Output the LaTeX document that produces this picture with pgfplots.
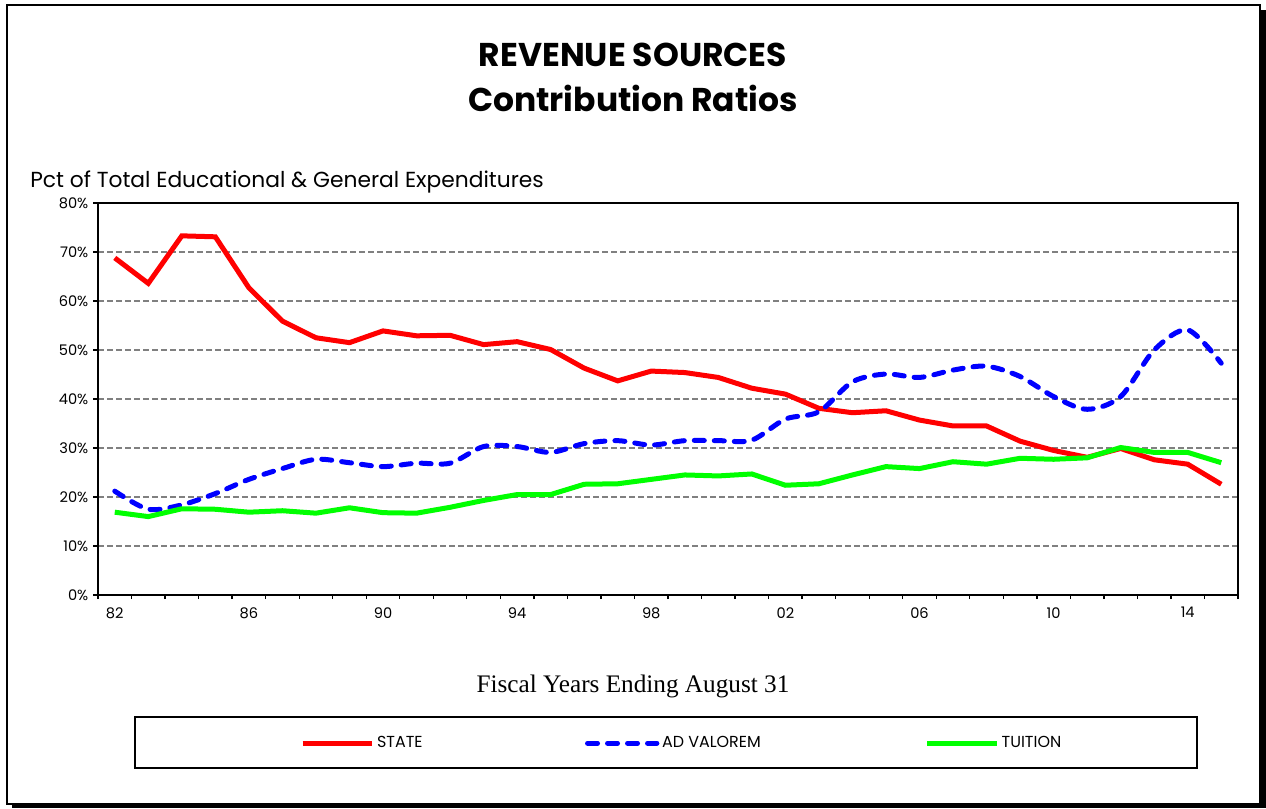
\documentclass[border=0pt]{standalone}
\usepackage{pgfplots}
\pgfplotsset{compat=1.18}
\usepackage{fontspec}
\setmainfont{Poppins}
\newfontfamily\serifx{Liberation Serif}
\definecolor{gridgray}{HTML}{808080}

\begin{document}
\begin{tikzpicture}[x=0.75bp,y=0.75bp]
% page size and outer frame with shadow
\path (0,0) rectangle (1266,808);
\fill[black] (12,0) rectangle (1266,5);
\fill[black] (1260,0) rectangle (1266,798);
\draw[line width=1.5bp] (7,4) rectangle (1260,803);

% titles
\node[font=\bfseries\fontsize{24.8}{28}\selectfont] at (633,753) {REVENUE SOURCES};
\node[font=\bfseries\fontsize{24.8}{28}\selectfont] at (633,710) {Contribution Ratios};
\node[anchor=west,inner sep=0pt,font=\fontsize{16.4}{18}\selectfont] at (30,626)
  {Pct of Total Educational \& General Expenditures};
\node[font=\serifx\fontsize{19}{21}\selectfont] at (633,122) {Fiscal Years Ending August 31};

% legend box
\draw[line width=1bp] (135,40) rectangle (1197,91);

\begin{axis}[
  at={(73.5bp,159.75bp)}, anchor=south west,
  scale only axis, width=855bp, height=294bp,
  xmin=81.5, xmax=115.5, ymin=0, ymax=80,
  xtick={82,86,...,114},
  xticklabels={82,86,90,94,98,02,06,10,14},
  minor xtick={81.5,82.5,...,115.5},
  ytick={0,10,...,80},
  yticklabel={\pgfmathprintnumber{\tick}\%},
  /pgf/number format/assume math mode=true,
  tick pos=left, tick align=outside,
  major tick length=3.75bp, minor tick length=3bp,
  major x tick style={draw=none},
  every tick/.style={black, line width=1bp},
  tick label style={font=\fontsize{11}{13}\selectfont},
  xticklabel style={yshift=-2bp},
  ymajorgrids,
  major grid style={gridgray, line width=1bp, dash pattern=on 4.5bp off 2.25bp},
  axis line style={line width=1.5bp},
  legend columns=3,
  legend cell align=left,
  legend style={draw=none, fill=none, at={(0.177,-0.378)}, anchor=west,
    font=\fontsize{12}{14}\selectfont, inner sep=0pt,
    /tikz/every even column/.style={column sep=0pt}},
  legend image code/.code={\draw[#1] (0bp,0bp) -- (52bp,0bp);},
]
\addplot[red, line width=3.75bp, no markers] coordinates {
  (82,68.8) (83,63.6) (84,73.3) (85,73.1) (86,62.7) (87,55.9)
  (88,52.5) (89,51.5) (90,53.9) (91,52.9) (92,53.0) (93,51.1)
  (94,51.7) (95,50.1) (96,46.3) (97,43.7) (98,45.7) (99,45.4)
  (100,44.4) (101,42.2) (102,41.0) (103,38.1) (104,37.2) (105,37.6)
  (106,35.7) (107,34.5) (108,34.5) (109,31.4) (110,29.5) (111,28.1)
  (112,29.9) (113,27.6) (114,26.7) (115,22.6)
};
\addlegendentry{\makebox[154bp][l]{STATE}}
\addplot[blue, line width=3.75bp, no markers, smooth, line cap=round,
  dash pattern=on 7.5bp off 7.5bp] coordinates {
  (82,21.2) (83,17.5) (84,18.4) (85,20.7) (86,23.6) (87,25.8)
  (88,27.7) (89,27.0) (90,26.2) (91,26.9) (92,26.9) (93,30.3)
  (94,30.3) (95,29.1) (96,30.9) (97,31.5) (98,30.6) (99,31.5)
  (100,31.5) (101,31.6) (102,35.9) (103,37.4) (104,43.5) (105,45.1)
  (106,44.4) (107,45.9) (108,46.7) (109,44.6) (110,40.5) (111,37.9)
  (112,40.5) (113,50.0) (114,54.1) (115,47.3)
};
\addlegendentry{\makebox[195bp][l]{AD VALOREM}}
\addplot[green, line width=3.75bp, no markers] coordinates {
  (82,16.9) (83,16.0) (84,17.6) (85,17.5) (86,16.9) (87,17.2)
  (88,16.7) (89,17.8) (90,16.8) (91,16.7) (92,17.9) (93,19.3)
  (94,20.5) (95,20.5) (96,22.6) (97,22.7) (98,23.6) (99,24.5)
  (100,24.3) (101,24.7) (102,22.4) (103,22.7) (104,24.5) (105,26.2)
  (106,25.8) (107,27.2) (108,26.7) (109,27.9) (110,27.7) (111,28.0)
  (112,30.1) (113,29.1) (114,29.1) (115,27.0)
};
\addlegendentry{TUITION}
\end{axis}
\end{tikzpicture}
\end{document}
